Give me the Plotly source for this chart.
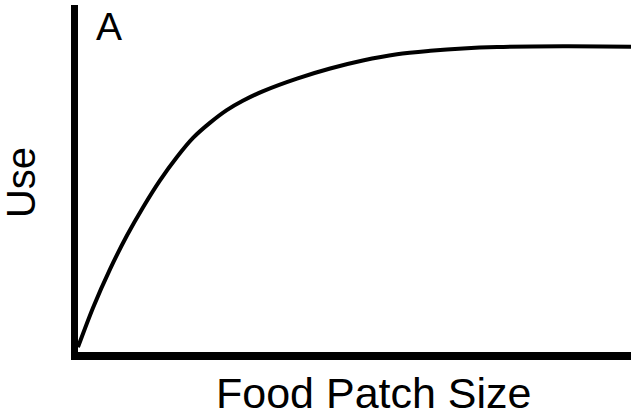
import plotly.graph_objects as go

# Curve (arbitrary units, 0-100 on both axes)
patch_size = [0, 2.7, 5.8, 8.9, 11.8, 14.8, 17.9, 20.8, 23.9, 26.9, 29.8, 33.5,
              39.6, 45.6, 51.5, 57.7, 63.7, 69.6, 75.8, 87.7, 100]
use_values = [1.4, 12.7, 23.9, 33.7, 41.8, 49.4, 56.2, 61.7, 66.1, 69.7, 72.4, 75.2,
              78.8, 81.7, 84.0, 85.8, 86.8, 87.5, 87.9, 88.1, 88.0]

x_title = "Food Patch Size"
y_title = "Use"
panel_label = "A"

FONT = "Liberation Sans, Arial, sans-serif"

fig = go.Figure()
fig.add_trace(go.Scatter(
    x=patch_size, y=use_values, mode="lines",
    line=dict(color="black", width=4, shape="spline", smoothing=0.9),
    hoverinfo="skip", showlegend=False,
))

fig.update_layout(
    width=631, height=420,
    margin=dict(l=78, r=0, t=5, b=68),
    paper_bgcolor="white", plot_bgcolor="white",
    xaxis=dict(range=[0, 100], showline=True, linecolor="black", linewidth=8,
               showgrid=False, zeroline=False, showticklabels=False, ticks=""),
    yaxis=dict(range=[0, 100], showline=True, linecolor="black", linewidth=7,
               showgrid=False, zeroline=False, showticklabels=False, ticks=""),
    annotations=[
        dict(text=x_title, x=0.535, y=-0.118, xref="paper", yref="paper",
             xanchor="center", yanchor="middle", showarrow=False,
             font=dict(family=FONT, size=43, color="black")),
        dict(text=y_title, x=-0.103, y=0.487, xref="paper", yref="paper",
             xanchor="center", yanchor="middle", showarrow=False, textangle=-90,
             font=dict(family=FONT, size=40, color="black")),
        dict(text=panel_label, x=0.056, y=0.939, xref="paper", yref="paper",
             xanchor="center", yanchor="middle", showarrow=False,
             font=dict(family=FONT, size=39, color="black")),
    ],
)

fig.write_html(
    "out.html",
    config={"displayModeBar": False},
    post_script="document.body.style.margin='0';document.body.style.overflow='hidden';",
)
